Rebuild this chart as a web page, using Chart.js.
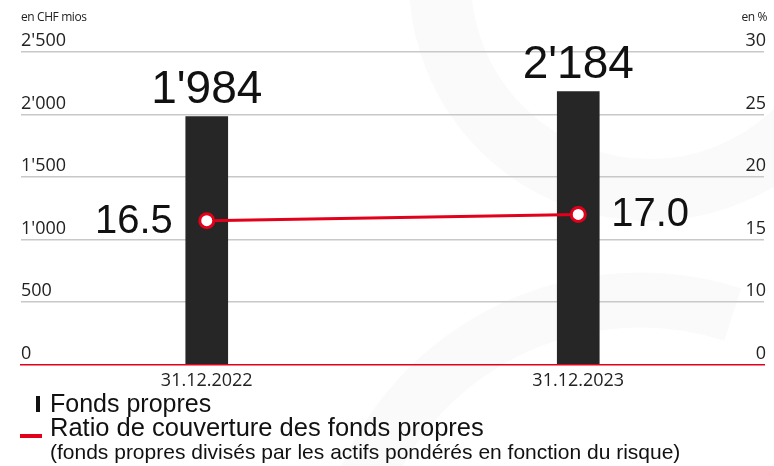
<!DOCTYPE html>
<html><head><meta charset="utf-8">
<script src="https://cdn.jsdelivr.net/npm/chart.js@4.4.1/dist/chart.umd.min.js"></script>
<style>
html,body{margin:0;padding:0;background:#fff;}
#wrap{position:relative;width:774px;height:466px;overflow:hidden;}
#box{position:absolute;left:0;top:0;width:774px;height:466px;}
.unit{position:absolute;top:8px;font:12px 'Open Sans',sans-serif;color:#222;letter-spacing:-0.4px;}
.leg{position:absolute;left:50px;font-family:'Liberation Sans',Arial,sans-serif;color:#111;white-space:nowrap;}
</style></head><body>
<div id="wrap">
  <div id="box"><canvas id="c"></canvas></div>
  <div class="unit" style="left:21px">en CHF mios</div>
  <div class="unit" style="right:7px">en %</div>
  <div style="position:absolute;left:36px;top:396px;width:4px;height:16px;background:#111"></div>
  <div class="leg" style="top:391px;font-size:25px;line-height:25px">Fonds propres</div>
  <div style="position:absolute;left:20px;top:434px;width:22px;height:4px;background:#e2001a"></div>
  <div class="leg" style="top:415px;font-size:25.5px;line-height:25px">Ratio de couverture des fonds propres</div>
  <div class="leg" style="top:442px;font-size:21px;line-height:20px">(fonds propres divisés par les actifs pondérés en fonction du risque)</div>
</div>
<script>
// capital chart: bars = equity (CHF mn), line = coverage ratio (%)
const categories = ['31.12.2022', '31.12.2023'];
const fondsPropres = [1984, 2184];
const ratioCouverture = [16.5, 17.0];
const rightTickLabels = ['0', '10', '15', '20', '25', '30'];   // right axis is broken between 0 and 10

const RED = '#e2001a', INK = '#111', GRID = '#c8c8c8';
const TICK_FONT = { family: "'Open Sans', sans-serif", size: 18 };
const fmt = v => String(v).replace(/\B(?=(\d{3})+(?!\d))/g, "'");

const watermark = {
  id: 'watermark',
  beforeDraw(chart) {
    const ctx = chart.ctx; ctx.save();
    ctx.strokeStyle = '#fafafa'; ctx.lineWidth = 62;
    ctx.beginPath(); ctx.arc(650, -20, 210, 0, Math.PI * 2); ctx.stroke();
    ctx.lineWidth = 55;
    ctx.beginPath(); ctx.arc(640, 600, 300, Math.PI * 1.05, Math.PI * 1.6); ctx.stroke();
    ctx.restore();
  }
};

const valueLabels = {
  id: 'valueLabels',
  afterDatasetsDraw(chart) {
    const ctx = chart.ctx, bars = chart.getDatasetMeta(1).data, pts = chart.getDatasetMeta(0).data;
    ctx.save(); ctx.fillStyle = INK;
    ctx.font = "46px 'Liberation Sans', Arial, sans-serif";
    ctx.textAlign = 'center'; ctx.textBaseline = 'alphabetic';
    bars.forEach((b, i) => ctx.fillText(fmt(fondsPropres[i]), b.x, b.y - 13));
    ctx.font = "40px 'Liberation Sans', Arial, sans-serif"; ctx.textBaseline = 'middle';
    pts.forEach((p, i) => {
      const left = i === 0;
      ctx.textAlign = left ? 'right' : 'left';
      ctx.fillText(ratioCouverture[i].toFixed(1), p.x + (left ? -34 : 33), p.y + 1);
    });
    ctx.restore();
  }
};

new Chart(document.getElementById('c'), {
  data: {
    labels: categories,
    datasets: [
      { type: 'line', data: ratioCouverture, yAxisID: 'y2', order: 0,
        borderColor: RED, borderWidth: 3, pointRadius: 7, pointBorderWidth: 3,
        pointBackgroundColor: '#fff', pointBorderColor: RED, tension: 0 },
      { type: 'bar', data: fondsPropres, yAxisID: 'y', order: 1,
        backgroundColor: '#262626', barThickness: 42 }
    ]
  },
  options: {
    responsive: true, maintainAspectRatio: false, animation: false,
    layout: { padding: { left: 21, right: 5, top: 52, bottom: 68 } },
    plugins: { legend: { display: false }, tooltip: { enabled: false } },
    scales: {
      x: {
        grid: { display: false, drawTicks: false },
        border: { color: RED, width: 1.5 },
        ticks: { color: '#222', font: TICK_FONT, padding: 6 }
      },
      y: {
        position: 'left', min: 0, max: 2500,
        grid: { color: c => c.tick.value === 0 ? 'rgba(0,0,0,0)' : GRID, lineWidth: 1.5, drawTicks: false },
        border: { display: false },
        ticks: { stepSize: 500, mirror: true, padding: 0, labelOffset: -11, color: '#222', font: TICK_FONT,
                 callback: v => fmt(v) }
      },
      y2: {
        position: 'right', min: 5, max: 30,
        grid: { display: false, drawTicks: false },
        border: { display: false },
        ticks: { stepSize: 5, mirror: true, padding: 2, labelOffset: -11, color: '#222', font: TICK_FONT,
                 callback: (v, i) => rightTickLabels[i] }
      }
    }
  },
  plugins: [watermark, valueLabels]
});
</script>
</body></html>
